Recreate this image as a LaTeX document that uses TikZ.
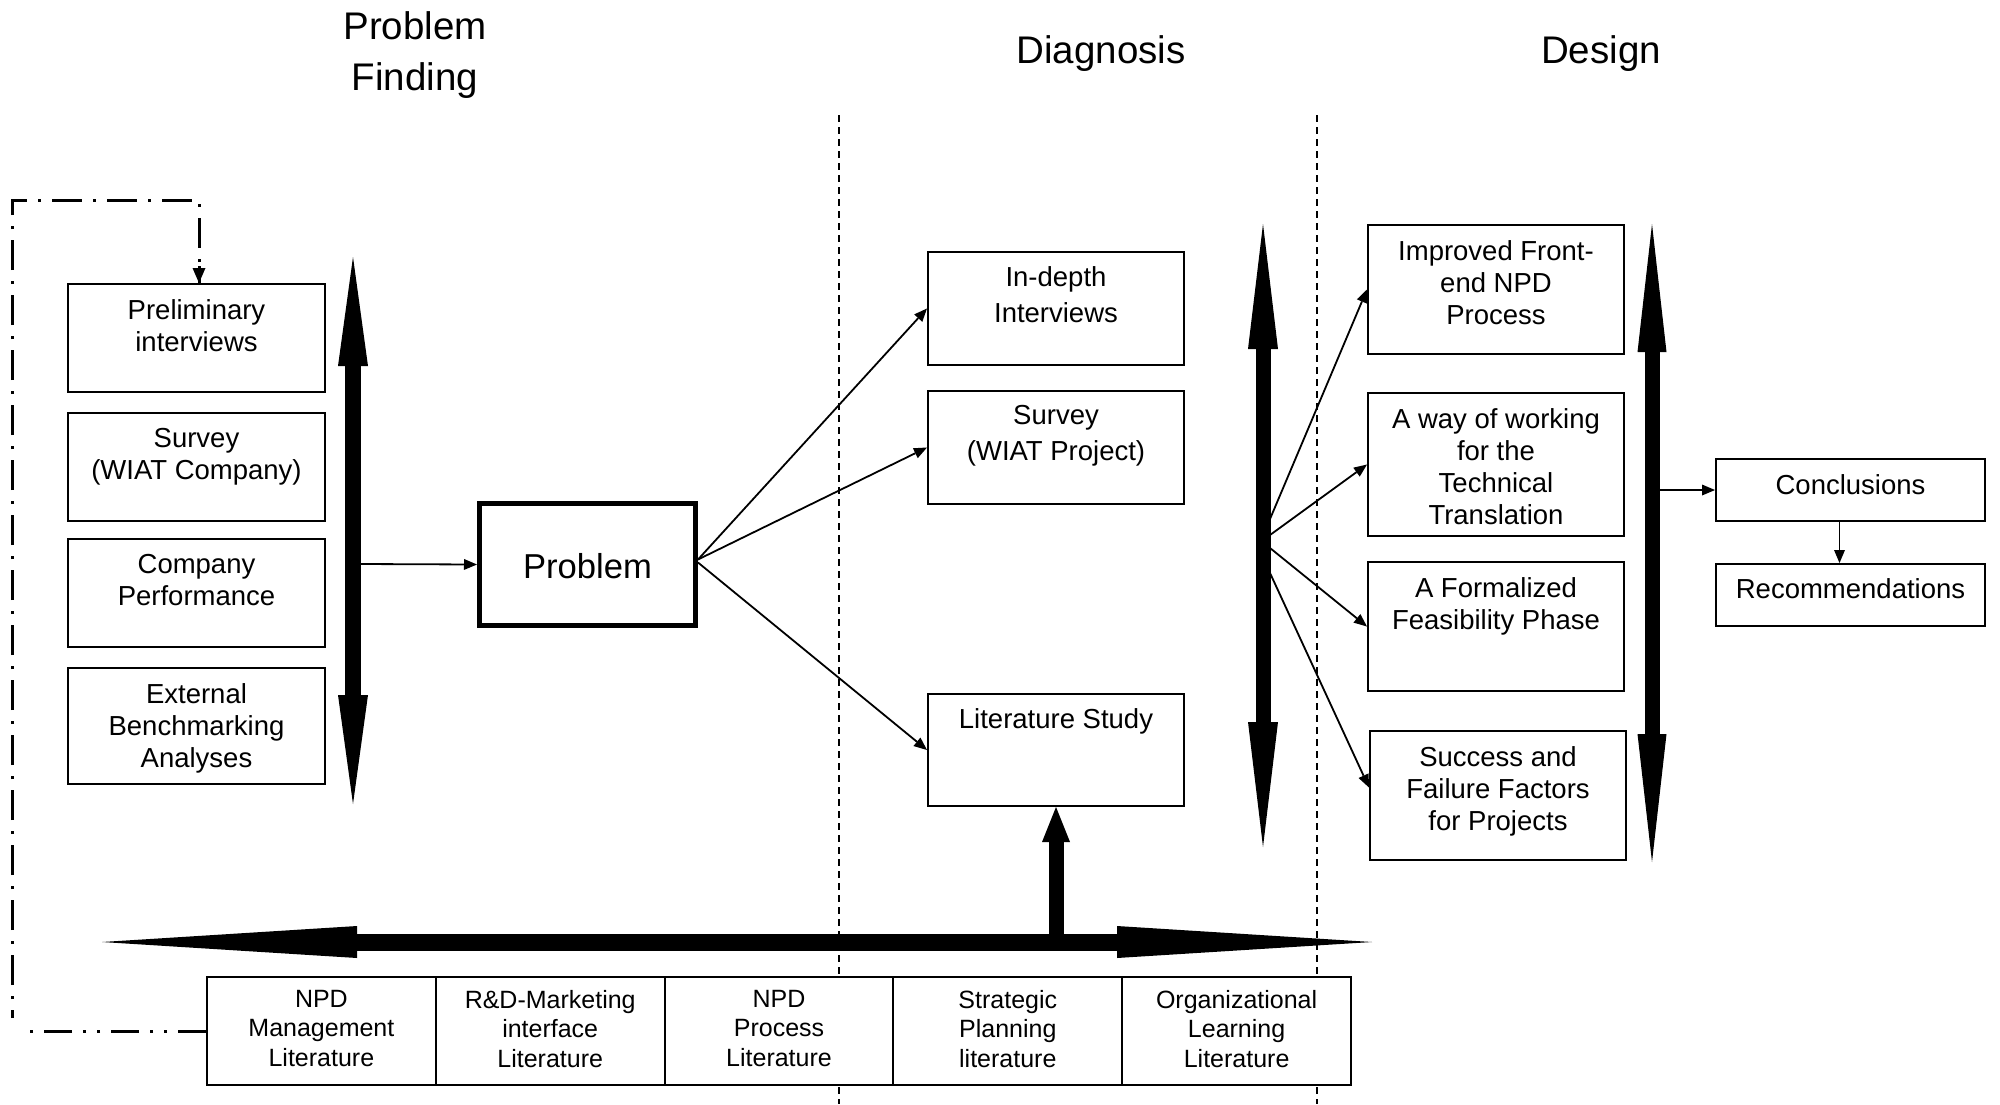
\documentclass[tikz,border=0pt]{standalone}
\usepackage{fontspec}
\setmainfont{Liberation Sans}
\usetikzlibrary{arrows.meta}

\begin{document}
\begin{tikzpicture}[x=1pt,y=-1pt,
  box/.style={draw, fill=white, line width=2pt, inner sep=0pt},
  boxtext/.style={anchor=north, align=center, inner sep=0pt,
    font=\fontsize{27.5}{32}\selectfont},
  diagtext/.style={boxtext, font=\fontsize{27.5}{36}\selectfont},
  littext/.style={boxtext, font=\fontsize{25}{29.5}\selectfont},
  title/.style={anchor=north, align=center, inner sep=0pt,
    font=\fontsize{38.5}{51}\selectfont},
  thinarrow/.style={line width=1.8pt,
    -{Triangle[length=13pt,width=11pt,line width=0pt]}},
  sepline/.style={line width=1.5pt, dash pattern=on 7pt off 5pt},
  feedback/.style={line width=3pt, dash pattern=on 30pt off 11pt on 3pt off 11pt},
  feedbackdd/.style={line width=3pt,
    dash pattern=on 28pt off 11pt on 3pt off 11pt on 3pt off 11pt},
]
\fill[white] (0,0) rectangle (2000,1104);
\useasboundingbox (0,0) rectangle (2000,1104);

% phase headings
\node[title] (tPF) at (415,11) {Problem\\Finding};
\node[title] (tDG) at (1101,35) {Diagnosis};
\node[title] (tDS) at (1601,35) {Design};

% phase separators
\coordinate (s1a) at (839,115);  \coordinate (s1b) at (839,1104);
\coordinate (s2a) at (1317,115); \coordinate (s2b) at (1317,1104);
\draw[sepline] (s1a) -- (s1b);
\draw[sepline] (s2a) -- (s2b);

% problem finding sources
\node[box, minimum width=257pt, minimum height=108pt] (pre) at (196.5,338) {};
\node[boxtext] (pre-t) at (196.5,299) {Preliminary\\interviews};
\node[box, minimum width=257pt, minimum height=108pt] (sva) at (196.5,467) {};
\node[boxtext] (sva-t) at (196.5,428) {Survey\\(WIAT Company)};
\node[box, minimum width=257pt, minimum height=108pt] (cmp) at (196.5,593) {};
\node[boxtext] (cmp-t) at (196.5,554) {Company\\Performance};
\node[box, minimum width=257pt, minimum height=116pt] (ext) at (196.5,726) {};
\node[boxtext] (ext-t) at (196.5,683) {External\\Benchmarking\\Analyses};

% problem
\node[draw, line width=5pt, minimum width=216pt, minimum height=122pt,
      inner sep=0pt] (prob) at (587.5,564.5) {};
\node[anchor=base, inner sep=0pt, font=\fontsize{34.6}{40}\selectfont]
      (prob-t) at (587.5,578) {Problem};

% diagnosis
\node[box, minimum width=256pt, minimum height=113pt] (ind) at (1056,308.5) {};
\node[diagtext] (ind-t) at (1056,266) {In-depth\\Interviews};
\node[box, minimum width=256pt, minimum height=113pt] (svp) at (1056,447.5) {};
\node[diagtext] (svp-t) at (1056,405) {Survey\\(WIAT Project)};
\node[box, minimum width=256pt, minimum height=112pt] (lit) at (1056,750) {};
\node[diagtext] (lit-t) at (1056,708) {Literature Study};

% design
\node[box, minimum width=256pt, minimum height=129pt] (imp) at (1496,289.5) {};
\node[boxtext] (imp-t) at (1496,240) {Improved Front-\\end NPD\\Process};
\node[box, minimum width=256pt, minimum height=143pt] (way) at (1496,464.5) {};
\node[boxtext] (way-t) at (1496,408) {A way of working\\for the\\Technical\\Translation};
\node[box, minimum width=256pt, minimum height=129pt] (frm) at (1496,626.5) {};
\node[boxtext] (frm-t) at (1496,577) {A Formalized\\Feasibility Phase};
\node[box, minimum width=256pt, minimum height=129pt] (suc) at (1498,795.5) {};
\node[boxtext] (suc-t) at (1498,746) {Success and\\Failure Factors\\for Projects};
\node[box, minimum width=269pt, minimum height=62pt] (conc) at (1850.5,490) {};
\node[boxtext] (conc-t) at (1850.5,474) {Conclusions};
\node[box, minimum width=269pt, minimum height=62pt] (rec) at (1850.5,595) {};
\node[boxtext] (rec-t) at (1850.5,578) {Recommendations};

% literature fields
\node[box, minimum width=228.8pt, minimum height=108pt] (l1) at (321.4,1031) {};
\node[box, minimum width=228.8pt, minimum height=108pt] (l2) at (550.2,1031) {};
\node[box, minimum width=228.8pt, minimum height=108pt] (l3) at (779.0,1031) {};
\node[box, minimum width=228.8pt, minimum height=108pt] (l4) at (1007.8,1031) {};
\node[box, minimum width=228.8pt, minimum height=108pt] (l5) at (1236.6,1031) {};
\node[littext] (l1-t) at (321.4,990) {NPD\\Management\\Literature};
\node[littext] (l2-t) at (550.2,990) {R\&D-Marketing\\interface\\Literature};
\node[littext] (l3-t) at (779.0,990) {NPD\\Process\\Literature};
\node[littext] (l4-t) at (1007.8,990) {Strategic\\Planning\\literature};
\node[littext] (l5-t) at (1236.6,990) {Organizational\\Learning\\Literature};

% thick double arrows
\coordinate (pfT) at (353,257);  \coordinate (pfB) at (353,804);
\draw[line width=16pt,
  {Triangle[length=109pt,width=30pt,line width=0pt]}-{Triangle[length=109pt,width=30pt,line width=0pt]}]
  (pfT) -- (pfB);
\coordinate (dgT) at (1263,224); \coordinate (dgB) at (1263,847);
\draw[line width=15pt,
  {Triangle[length=125pt,width=30pt,line width=0pt]}-{Triangle[length=125pt,width=30pt,line width=0pt]}]
  (dgT) -- (dgB);
\coordinate (dsT) at (1652,224); \coordinate (dsB) at (1652,862);
\draw[line width=15pt,
  {Triangle[length=128pt,width=29pt,line width=0pt]}-{Triangle[length=128pt,width=29pt,line width=0pt]}]
  (dsT) -- (dsB);
\coordinate (hbL) at (102,942); \coordinate (hbR) at (1372,942);
\draw[line width=17pt,
  {Triangle[length=255pt,width=32pt,line width=0pt]}-{Triangle[length=255pt,width=32pt,line width=0pt]}]
  (hbL) -- (hbR);
\coordinate (hbM) at (1056,942);
\draw[line width=15pt, -{Triangle[length=35pt,width=28pt,line width=0pt]}]
  (hbM) -- (lit.south);

% thin connectors
\coordinate (pfO) at (361,564);
\draw[thinarrow] (pfO) -- (prob.west);
\draw[thinarrow] ([yshift=5pt]prob.east) -- (ind.west);
\draw[thinarrow] ([yshift=5pt]prob.east) -- (svp.west);
\draw[thinarrow] ([yshift=2pt]prob.east) -- (lit.west);

\coordinate (dg1) at (1270,519);
\coordinate (dg2) at (1270,535);
\coordinate (dg3) at (1270,548);
\coordinate (dg4) at (1270,573);
\draw[thinarrow] (dg1) -- (imp.west);
\draw[thinarrow] (dg2) -- (way.west);
\draw[thinarrow] (dg3) -- (frm.west);
\draw[thinarrow] (dg4) -- ([yshift=8pt]suc.west);

\coordinate (dsO) at (1660,490);
\draw[thinarrow] (dsO) -- (conc.west);
\draw[thinarrow] ([xshift=-11pt]conc.south) -- ([xshift=-11pt]rec.north);

% feedback loop
\coordinate (fbA) at (20,1031);
\draw[feedbackdd] (l1.west) -- (fbA);
\coordinate (fbB) at (12,1018);
\coordinate (fbC) at (12,200);
\coordinate (fbD) at (199,200);
\draw[feedback, dash phase=22pt] (fbB) -- (fbC) -- (fbD) -- (fbD |- pre.north);
\draw[line width=3pt, -{Triangle[length=15pt,width=13pt,line width=0pt]}]
  ([yshift=17pt]fbD |- pre.north) -- (fbD |- pre.north);
\end{tikzpicture}
\end{document}
